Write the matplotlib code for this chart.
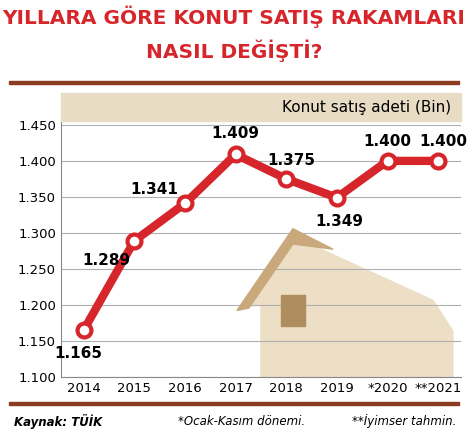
import matplotlib.pyplot as plt
from matplotlib.patches import Polygon, Rectangle

years = ["2014", "2015", "2016", "2017", "2018", "2019", "*2020", "**2021"]
sales = [1.165, 1.289, 1.341, 1.409, 1.375, 1.349, 1.400, 1.400]
labels = ["1.165", "1.289", "1.341", "1.409", "1.375", "1.349", "1.400", "1.400"]
label_offsets = [(-4, -17), (-20, -14), (-22, 10), (0, 15), (4, 13), (2, -17), (0, 14), (4, 14)]
yticks = [1.100, 1.150, 1.200, 1.250, 1.300, 1.350, 1.400, 1.450]

RED = "#d7262b"
BROWN = "#8c3a22"
BEIGE = "#e8dcc4"

fig = plt.figure(figsize=(4.68, 4.41), dpi=100)
fig.text(0.5, 0.962, "YILLARA GÖRE KONUT SATIŞ RAKAMLARI", ha="center", va="center",
         color=RED, fontsize=14.5, fontweight="bold")
fig.text(0.5, 0.885, "NASIL DEĞİŞTİ?", ha="center", va="center",
         color=RED, fontsize=14.5, fontweight="bold")
fig.add_artist(Rectangle((0.02, 0.81), 0.96, 0.006, transform=fig.transFigure, color=BROWN))
fig.add_artist(Rectangle((0.13, 0.725), 0.855, 0.065, transform=fig.transFigure, color=BEIGE))
fig.text(0.965, 0.757, "Konut satış adeti (Bin)", ha="right", va="center", fontsize=11)

ax = fig.add_axes([0.13, 0.145, 0.855, 0.58])
ax.set_ylim(1.100, 1.455)
ax.set_xlim(-0.45, len(years) - 0.55)
ax.set_yticks(yticks)
ax.set_yticklabels([f"{v:.3f}" for v in yticks], fontsize=9.5)
ax.set_xticks(range(len(years)))
ax.set_xticklabels(years, fontsize=9.5)
ax.grid(axis="y", color="#b0b0b0", linewidth=0.8)
ax.set_axisbelow(True)
for s in ["top", "right"]:
    ax.spines[s].set_visible(False)
ax.spines["left"].set_color("#888888")
ax.spines["bottom"].set_color("#888888")
ax.tick_params(length=0)

# decorative house in axes coordinates
ax.add_patch(Polygon([[0.47, 0.28], [0.58, 0.55], [0.93, 0.30], [0.98, 0.18], [0.98, 0.0], [0.50, 0.0], [0.50, 0.28]],
                     closed=True, transform=ax.transAxes, color="#ecdfc5", zorder=0.5))
ax.add_patch(Polygon([[0.44, 0.26], [0.58, 0.58], [0.68, 0.50], [0.58, 0.52], [0.47, 0.27]],
                     closed=True, transform=ax.transAxes, color="#c9a97c", zorder=0.6))
ax.add_patch(Rectangle((0.55, 0.20), 0.06, 0.12, transform=ax.transAxes, color="#b08d5e", zorder=0.6))

ax.plot(range(len(years)), sales, color=RED, linewidth=6, marker="o", markersize=10,
        markerfacecolor="white", markeredgecolor=RED, markeredgewidth=3, zorder=3)
for i, (v, t) in enumerate(zip(sales, labels)):
    ax.annotate(t, (i, v), xytext=label_offsets[i], textcoords="offset points",
                ha="center", va="center", fontsize=11, fontweight="bold", zorder=4)

fig.add_artist(Rectangle((0.02, 0.082), 0.96, 0.006, transform=fig.transFigure, color=BROWN))
fig.text(0.03, 0.045, "Kaynak: TÜİK", fontsize=8.5, fontweight="bold", style="italic", va="center")
fig.text(0.38, 0.045, "*Ocak-Kasım dönemi.", fontsize=8.5, style="italic", va="center")
fig.text(0.975, 0.045, "**İyimser tahmin.", fontsize=8.5, style="italic", va="center", ha="right")

fig.savefig("out.png", dpi=100)
